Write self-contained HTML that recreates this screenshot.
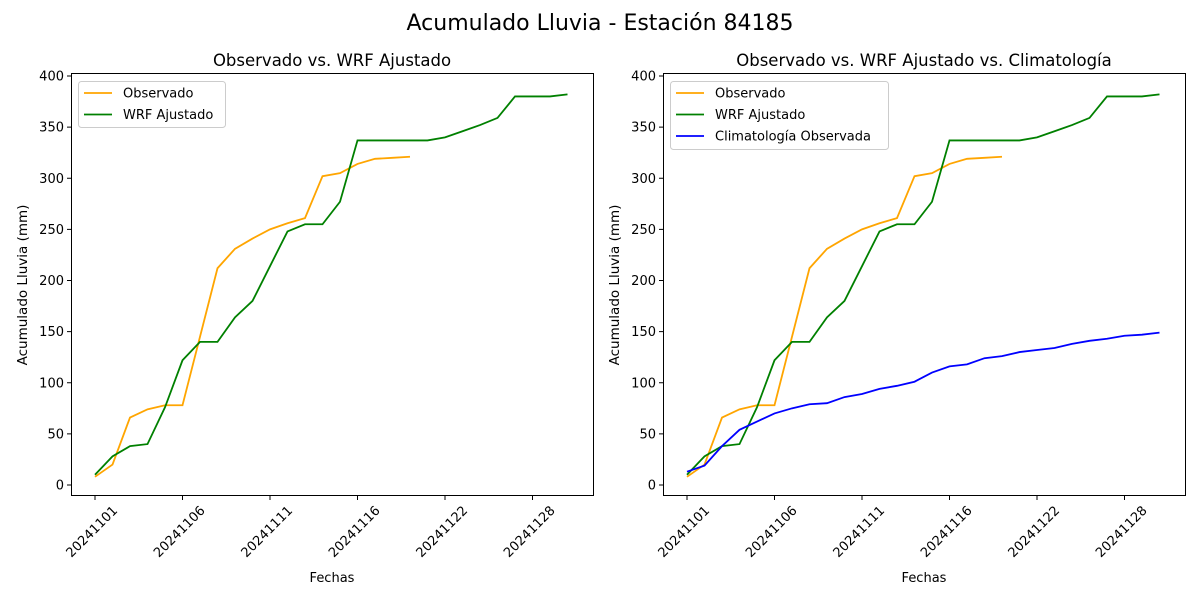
<!DOCTYPE html>
<html><head><meta charset="utf-8"><style>
body{margin:0;background:#fff}
text{font-family:"DejaVu Sans","Liberation Sans",sans-serif;fill:#000}
</style></head><body>
<svg id="s" width="1200" height="600" xmlns="http://www.w3.org/2000/svg">
<rect width="1200" height="600" fill="#fff"/>
<text x="600" y="30" font-size="22" text-anchor="middle">Acumulado Lluvia - Estación 84185</text>
</svg>
<script>
const s=document.getElementById('s');
const obs=[8,20,66,74,78,78,145,212,231,241,250,256,261,302,305,314,319,320,321];
const wrf=[10,28,38,40,76,122,140,140,164,180,214,248,255,255,277,337,337,337,337,337,340,346,352,359,380,380,380,382];
const cli=[13,19,38,54,62,70,75,79,80,86,89,94,97,101,110,116,118,124,126,130,132,134,138,141,143,146,147,149];
const labs=['20241101','20241106','20241111','20241116','20241122','20241128'];
let h='';
function panel(ox,title,series,leg){
  const X=i=>ox+95+17.5*i, Y=v=>485-v*1.0225;
  h+=`<text x="${ox+332}" y="66" font-size="16.5" text-anchor="middle">${title}</text>`;
  h+=`<rect x="${ox+71.5}" y="73.5" width="522" height="422" fill="none" stroke="#000" stroke-width="1"/>`;
  for(let v=0;v<=400;v+=50){const y=Y(v);h+=`<line x1="${ox+71.5}" x2="${ox+67}" y1="${y}" y2="${y}" stroke="#000"/><text x="${ox+64}" y="${y+4.5}" font-size="13" text-anchor="end">${v}</text>`;}
  labs.forEach((l,k)=>{const x=X(k*5);h+=`<line x1="${x}" x2="${x}" y1="495.5" y2="500" stroke="#000"/><text transform="translate(${x+17},${505}) rotate(-45)" font-size="13" text-anchor="end" dominant-baseline="hanging">${l}</text>`;});
  h+=`<text x="${ox+332}" y="582" font-size="13" text-anchor="middle">Fechas</text>`;
  h+=`<text transform="translate(${ox+27},285) rotate(-90)" font-size="13.5" text-anchor="middle">Acumulado Lluvia (mm)</text>`;
  series.forEach(([d,c])=>{h+=`<polyline fill="none" stroke="${c}" stroke-width="1.8" points="${d.map((v,i)=>X(i)+','+Y(v)).join(' ')}"/>`;});
  const w=leg=='r'?218:147, n=series.length;
  h+=`<rect x="${ox+78.5}" y="81.5" width="${w}" height="${n*22+2}" rx="3" fill="#fff" stroke="#ccc"/>`;
  const names=['Observado','WRF Ajustado','Climatología Observada'];
  series.forEach(([d,c],k)=>{const y=93+k*21.5;h+=`<line x1="${ox+84}" x2="${ox+112}" y1="${y}" y2="${y}" stroke="${c}" stroke-width="1.8"/><text x="${ox+123}" y="${y+4.5}" font-size="13">${names[k]}</text>`;});
}
panel(0,'Observado vs. WRF Ajustado',[[obs,'orange'],[wrf,'green']],'l');
panel(592,'Observado vs. WRF Ajustado vs. Climatología',[[obs,'orange'],[wrf,'green'],[cli,'blue']],'r');
s.insertAdjacentHTML('beforeend',h);
</script>
</body></html>
